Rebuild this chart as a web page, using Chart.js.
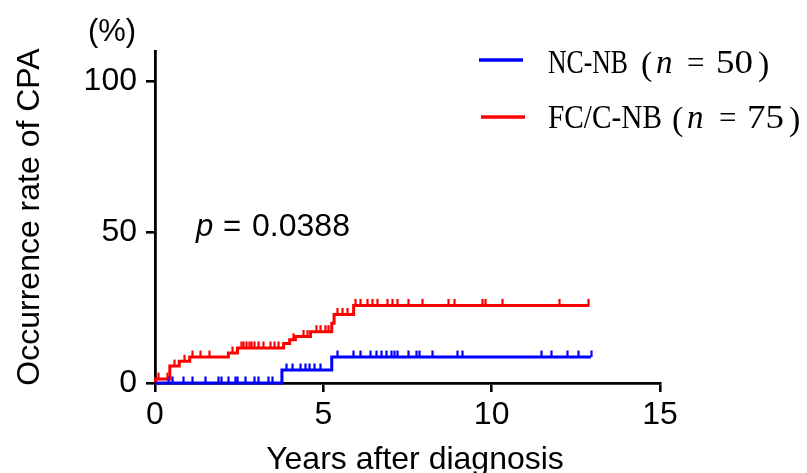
<!DOCTYPE html>
<html><head><meta charset="utf-8">
<script src="https://cdn.jsdelivr.net/npm/chart.js@4.4.0/dist/chart.umd.min.js"></script>
<style>html,body{margin:0;padding:0;background:#fff;}#wrap{width:807px;height:473px;position:relative}</style>
</head><body><div id="wrap"><canvas id="c" width="807" height="473"></canvas></div>
<script>
// ---- data ----
const xTicks = [0, 5, 10, 15];
const yTicks = [0, 50, 100];
const seriesNames = ['NC-NB', 'FC/C-NB'];
const seriesN = [50, 75];
const pValue = '0.0388';

const blueTimes  = [0, 3.77, 5.25, 12.95];
const blueLevels = [0, 4.3, 8.6, 8.6];
const blueCensor = [0.4, 0.5, 0.84, 1.09, 1.49, 1.88, 1.95, 2.18, 2.38, 2.45, 2.68, 2.95, 3.05, 3.37, 3.47,
  3.9, 4.07, 4.32, 4.46, 4.58, 4.71, 4.9, 5.4, 5.88, 6.1, 6.38, 6.55, 6.72, 6.87, 7.0, 7.1, 7.2, 7.5, 7.75, 7.85,
  8.23, 8.98, 9.13, 11.46, 11.76, 12.25, 12.55, 12.95];

const redTimes  = [0, 0.02, 0.44, 0.72, 1.03, 2.18, 2.45, 3.82, 4.0, 4.17, 4.62, 5.25, 5.32, 5.9, 12.9];
const redLevels = [0, 1.3, 5.6, 7.2, 8.6, 9.9, 11.6, 13.1, 14.3, 15.4, 17.0, 19.8, 22.7, 25.7, 25.7];
const redCensor = [0.08, 0.35, 0.55, 0.85, 1.1, 1.35, 1.6, 2.3, 2.55, 2.62, 2.7, 2.78, 2.85, 2.95, 3.05, 3.2,
  3.42, 3.52, 3.66, 4.1, 4.4, 4.5, 4.78, 4.9, 5.05, 5.15, 5.4, 5.55, 5.7, 5.95, 6.1, 6.3, 6.45, 6.6, 6.9, 7.04,
  7.2, 7.5, 7.94, 8.7, 8.87, 9.7, 9.8, 10.3, 12.0, 12.85];

const BLUE = '#0000ff', RED = '#ff0000';

function toPts(ts, ls) { return ts.map((t, i) => ({x: t, y: ls[i]})); }
function levelAt(ts, ls, t) { let v = ls[0]; for (let i = 0; i < ts.length; i++) { if (ts[i] <= t) v = ls[i]; } return v; }

const series = [
  {times: blueTimes, levels: blueLevels, censor: blueCensor, color: BLUE},
  {times: redTimes, levels: redLevels, censor: redCensor, color: RED}
];

function fitText(ctx, txt, x, y, w) {
  const m = ctx.measureText(txt).width;
  ctx.save(); ctx.translate(x, y); ctx.scale(w / m, 1); ctx.fillText(txt, 0, 0); ctx.restore();
}

const decor = {
  id: 'decor',
  afterDatasetsDraw(chart) {
    const ctx = chart.ctx, xs = chart.scales.x, ys = chart.scales.y;
    ctx.save();
    // censor ticks
    series.forEach(s => {
      ctx.strokeStyle = s.color; ctx.lineWidth = 2.2;
      s.censor.forEach(t => {
        const px = Math.round(xs.getPixelForValue(t)) + 0.5;
        const py = ys.getPixelForValue(levelAt(s.times, s.levels, t));
        ctx.beginPath(); ctx.moveTo(px, py); ctx.lineTo(px, py - 6.5); ctx.stroke();
      });
    });
    ctx.fillStyle = '#000';
    // (%)
    ctx.font = '31px "Liberation Sans"'; ctx.textAlign = 'center'; ctx.textBaseline = 'alphabetic';
    ctx.fillText('(%)', 112, 41);
    // y title
    ctx.save(); ctx.translate(30, 217); ctx.rotate(-Math.PI / 2);
    ctx.font = '32px "Liberation Sans"'; ctx.textBaseline = 'middle'; ctx.textAlign = 'center';
    ctx.fillText('Occurrence rate of CPA', 0, 0);
    ctx.restore();
    // x title
    ctx.font = '32px "Liberation Sans"'; ctx.textAlign = 'center'; ctx.textBaseline = 'alphabetic';
    ctx.fillText('Years after diagnosis', 415, 469);
    // p value
    ctx.textAlign = 'left';
    ctx.font = 'italic 31px "Liberation Sans"'; ctx.fillText('p', 196, 236);
    ctx.font = '31px "Liberation Sans"'; ctx.fillText('=', 223, 236);
    fitText(ctx, pValue, 252, 236, 98);
    // legend
    const rows = [
      {y: 73, w: 80, line: [479, 523, 60], paren: [641, 656, 687, 716, 758]},
      {y: 128, w: 114, line: [481, 525, 117], paren: [672, 687, 719, 747, 789]}
    ];
    rows.forEach((r, i) => {
      ctx.strokeStyle = series[i].color; ctx.lineWidth = 3.5;
      ctx.beginPath(); ctx.moveTo(r.line[0], r.line[2]); ctx.lineTo(r.line[1], r.line[2]); ctx.stroke();
      ctx.fillStyle = '#000';
      ctx.font = '33px "Liberation Serif"';
      fitText(ctx, seriesNames[i], 548, r.y, r.w);
      ctx.font = '34px "Liberation Serif"';
      ctx.fillText('(', r.paren[0], r.y + 2);
      ctx.font = 'italic 33px "Liberation Serif"'; ctx.fillText('n', r.paren[1], r.y);
      ctx.font = '31px "Liberation Serif"';
      ctx.fillText('=', r.paren[2], r.y);
      ctx.font = '33px "Liberation Serif"';
      fitText(ctx, String(seriesN[i]), r.paren[3], r.y, 37);
      ctx.font = '34px "Liberation Serif"';
      ctx.fillText(')', r.paren[4], r.y + 2);
    });
    ctx.restore();
  }
};

const axisCommon = {
  type: 'linear',
  grid: {drawOnChartArea: false, drawTicks: true, tickLength: 9, color: '#000', lineWidth: 2.6},
  border: {display: true, color: '#000', width: 2.8},
  ticks: {color: '#000', font: {size: 32, family: 'Liberation Sans'}, autoSkip: false, maxRotation: 0}
};

new Chart(document.getElementById('c'), {
  type: 'scatter',
  data: {
    datasets: series.map((s, i) => ({
      label: seriesNames[i],
      data: toPts(s.times, s.levels),
      showLine: true, stepped: 'before',
      borderColor: s.color, backgroundColor: s.color,
      borderWidth: 3, pointRadius: 0, clip: false
    }))
  },
  options: {
    responsive: false, animation: false, devicePixelRatio: 1,
    layout: {padding: {top: 51, right: 147, left: 0, bottom: 0}},
    plugins: {legend: {display: false}, tooltip: {enabled: false}},
    scales: {
      x: Object.assign({}, axisCommon, {
        min: 0, max: 15,
        afterBuildTicks: s => { s.ticks = xTicks.map(v => ({value: v})); },
        afterFit: s => { s.height = 90; },
        ticks: Object.assign({}, axisCommon.ticks, {padding: 4})
      }),
      y: Object.assign({}, axisCommon, {
        min: 0, max: 110,
        afterBuildTicks: s => { s.ticks = yTicks.map(v => ({value: v})); },
        afterFit: s => { s.width = 155; },
        ticks: Object.assign({}, axisCommon.ticks, {padding: 9})
      })
    }
  },
  plugins: [decor]
});
</script></body></html>
